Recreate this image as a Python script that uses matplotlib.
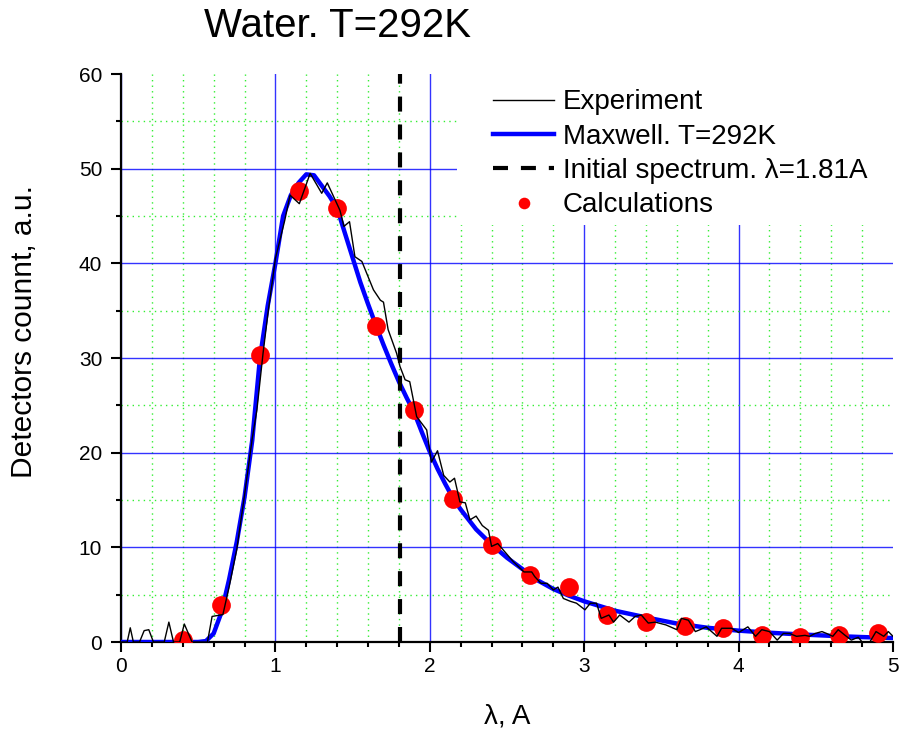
import matplotlib
matplotlib.use("Agg")
import matplotlib.pyplot as plt
from matplotlib.ticker import MultipleLocator
from matplotlib.patches import Rectangle

plt.rcParams['font.family'] = ['Liberation Sans', 'DejaVu Sans']

# experiment (noisy detector counts)
exp_x = [0.0, 0.04, 0.06, 0.08, 0.12, 0.15, 0.18, 0.21, 0.28, 0.31, 0.34, 0.38, 0.41, 0.46,
         0.52, 0.56, 0.59, 0.66, 0.70, 0.75, 0.80, 0.85, 0.88, 0.92, 0.95, 1.00, 1.03, 1.06,
         1.095, 1.155, 1.225, 1.30, 1.336, 1.418, 1.444, 1.48, 1.515, 1.56, 1.635, 1.68, 1.70,
         1.73, 1.785, 1.807, 1.84, 1.87, 1.915, 1.98, 2.01, 2.05, 2.09, 2.13, 2.16, 2.195, 2.23,
         2.26, 2.30, 2.34, 2.38, 2.40, 2.44, 2.54, 2.61, 2.66, 2.68, 2.72, 2.76, 2.80, 2.83,
         2.865, 2.91, 2.95, 3.005, 3.04, 3.08, 3.11, 3.16, 3.19, 3.23, 3.29, 3.33, 3.37, 3.415,
         3.46, 3.53, 3.60, 3.63, 3.675, 3.72, 3.75, 3.79, 3.86, 3.89, 3.955, 4.0, 4.06, 4.11,
         4.15, 4.20, 4.25, 4.29, 4.33, 4.375, 4.43, 4.46, 4.495, 4.54, 4.57, 4.61, 4.645, 4.69,
         4.73, 4.775, 4.80, 4.85, 4.89, 4.94, 4.97, 5.0]
exp_y = [0, 0, 1.5, 0, 0, 1.2, 1.3, 0, 0, 2.1, 0, 0, 1.9, 0,
         0, 0, 2.7, 2.9, 5.8, 9.8, 15.5, 21.5, 24.5, 30.5, 34.5, 40.5, 42.5, 44.5,
         47.2, 46.3, 49.5, 47.4, 48.5, 45.6, 43.9, 44.4, 40.7, 40.2, 37.2, 36.1, 35.9,
         33.0, 30.5, 29.1, 27.7, 27.5, 23.8, 22.4, 19.0, 20.2, 17.6, 16.9, 17.3, 14.8, 14.7,
         12.9, 13.3, 12.3, 11.8, 10.1, 10.4, 8.5, 7.4, 7.4, 6.9, 6.2, 6.2, 5.5, 5.8,
         4.6, 4.3, 4.1, 3.4, 4.1, 4.1, 2.5, 2.85, 2.1, 2.85, 2.1, 2.7, 2.85, 2.0,
         2.1, 1.8, 1.3, 2.5, 2.3, 1.1, 1.3, 1.6, 0.6, 1.45, 1.45, 1.0, 1.6, 0.6,
         1.3, 1.1, 0.2, 0.9, 0.9, 0.6, 0.7, 0.6, 0.9, 1.1, 0.9, 0.6, 1.3, 0.7,
         0.2, 0.5, 0.0, 0.0, 1.1, 0.6, 1.1, 0.6]

# Maxwell fit, T=292K
max_x = [0, 0.5, 0.55, 0.6, 0.65, 0.7, 0.75, 0.8, 0.85, 0.9, 0.95, 1.0, 1.05, 1.1, 1.15,
         1.2, 1.25, 1.3, 1.35, 1.4, 1.45, 1.5, 1.55, 1.6, 1.65, 1.7, 1.75, 1.8, 1.85, 1.9,
         1.95, 2.0, 2.05, 2.1, 2.15, 2.2, 2.3, 2.4, 2.5, 2.6, 2.7, 2.8, 2.9, 3.0, 3.2, 3.4,
         3.6, 3.8, 4.0, 4.2, 4.4, 4.6, 4.8, 5.0]
max_y = [0, 0, 0.1, 0.9, 3.1, 6.6, 10.6, 15.3, 21.3, 30.0, 35.5, 40.0, 45.0, 47.2, 48.5,
         49.4, 49.3, 48.2, 47.1, 45.8, 43.2, 40.6, 38.0, 35.7, 33.5, 31.4, 29.4, 27.5, 25.8, 24.2,
         22.1, 20.1, 18.3, 16.7, 15.2, 14.0, 11.9, 10.3, 8.9, 7.7, 6.5, 5.6, 4.9, 4.3, 3.3, 2.6,
         1.95, 1.5, 1.2, 0.98, 0.8, 0.65, 0.52, 0.42]

# calculations
calc_x = [0.4, 0.65, 0.9, 1.15, 1.4, 1.65, 1.9, 2.15, 2.4, 2.65, 2.9, 3.15, 3.4, 3.65,
          3.9, 4.15, 4.4, 4.65, 4.9]
calc_y = [0.2, 3.9, 30.3, 47.6, 45.8, 33.4, 24.5, 15.1, 10.2, 7.1, 5.85, 2.85, 2.15, 1.7,
          1.5, 0.74, 0.56, 0.7, 0.92]

lam0 = 1.81

fig = plt.figure(figsize=(9.01, 7.34), dpi=100)
ax = fig.add_axes([121/901, 1-642/734, 772/901, 568/734])

l_max, = ax.plot(max_x, max_y, color='#0000ff', lw=3.2, zorder=3, label='Maxwell. T=292K')
l_calc, = ax.plot(calc_x, calc_y, 'o', color='#ff0000', ms=13.5, mec='none', zorder=4,
                  label='Calculations')
l_exp, = ax.plot(exp_x, exp_y, color='black', lw=1.0, zorder=5, label='Experiment')
l_init = ax.axvline(lam0, color='black', lw=3, ls=(0, (3.6, 3.1)), zorder=6,
                    label='Initial spectrum. λ=1.81A')

ax.set_xlim(0, 5)
ax.set_ylim(0, 60)
ax.xaxis.set_major_locator(MultipleLocator(1))
ax.xaxis.set_minor_locator(MultipleLocator(0.2))
ax.yaxis.set_major_locator(MultipleLocator(10))
ax.yaxis.set_minor_locator(MultipleLocator(5))

ax.grid(which='major', color='#0000ff', lw=1.0, alpha=0.8)
ax.grid(which='minor', color='#33ee33', lw=1.0, ls=(0, (1, 3)))

# no grid lines on the top / right edges
for loc, t in zip(ax.yaxis.get_majorticklocs(), ax.yaxis.get_major_ticks()):
    if loc >= 60:
        t.gridline.set_visible(False)
for loc, t in zip(ax.xaxis.get_majorticklocs(), ax.xaxis.get_major_ticks()):
    if loc >= 5:
        t.gridline.set_visible(False)

for s in ['top', 'right']:
    ax.spines[s].set_visible(False)
for s in ['left', 'bottom']:
    ax.spines[s].set_linewidth(1.6)

ax.tick_params(which='major', length=7, width=1.5, labelsize=15, direction='out')
ax.tick_params(which='minor', length=3.8, width=1.5, direction='out')
ax.tick_params(axis='x', which='major', pad=4)
ax.tick_params(axis='y', which='major', pad=6.5)

ax.set_xlabel('λ, A', fontsize=20)
ax.set_ylabel('Detectors counnt, a.u.', fontsize=21.5)
ax.xaxis.set_label_coords(0.5, -0.108)
ax.yaxis.set_label_coords(-0.108, 0.546)

fig.text(337/901, 1-37/734, 'Water. T=292K', fontsize=29, ha='center', va='baseline')

# white area behind the legend
ax.add_patch(Rectangle((0.435, 0.734), 0.565, 0.266, transform=ax.transAxes,
                       facecolor='white', edgecolor='none', zorder=2))

leg = ax.legend(handles=[l_exp, l_max, l_init, l_calc], loc='upper left',
                bbox_to_anchor=(485/901, 1-81/734), bbox_transform=fig.transFigure,
                fontsize=20, frameon=False, handlelength=2.2, handletextpad=0.3,
                labelspacing=0.3, borderpad=0.3, markerscale=0.62, borderaxespad=0)
leg.set_zorder(10)

fig.savefig('out.png', dpi=100)
